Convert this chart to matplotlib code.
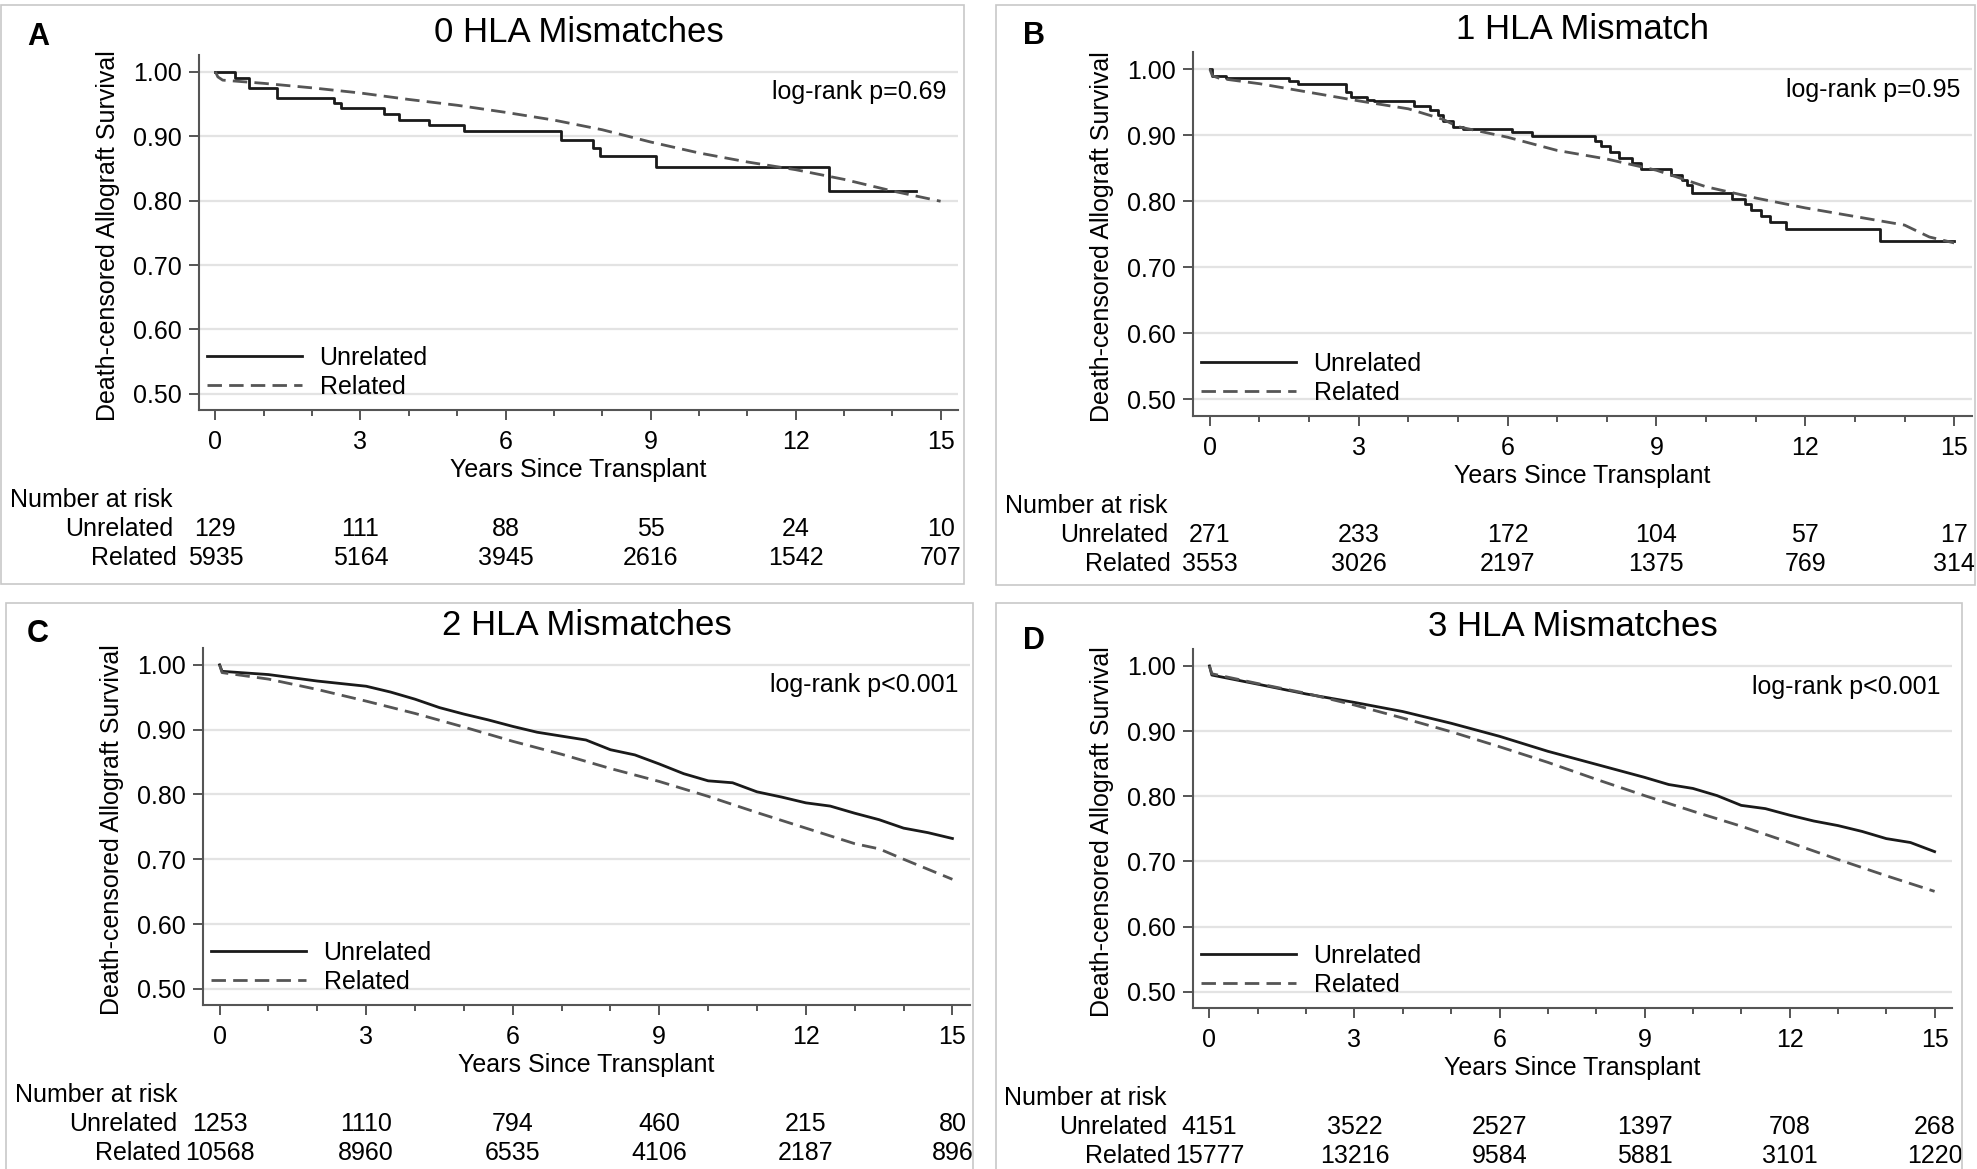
import matplotlib
matplotlib.use('Agg')
import matplotlib.pyplot as plt
from matplotlib.patches import Rectangle
from matplotlib.ticker import FormatStrFormatter, MultipleLocator

plt.rcParams['font.family'] = ['Liberation Sans', 'DejaVu Sans']
plt.rcParams['font.size'] = 18

W, H = 1977, 1169
PT = 0.72  # points per pixel at 100 dpi

panel_letters = ['A', 'B', 'C', 'D']
panel_titles = ['0 HLA Mismatches', '1 HLA Mismatch', '2 HLA Mismatches', '3 HLA Mismatches']
logrank = ['log-rank p=0.69', 'log-rank p=0.95', 'log-rank p<0.001', 'log-rank p<0.001']
group_labels = ['Unrelated', 'Related']

risk_years = [0, 3, 6, 9, 12, 15]
risk_unrelated = [[129, 111, 88, 55, 24, 10],
                  [271, 233, 172, 104, 57, 17],
                  [1253, 1110, 794, 460, 215, 80],
                  [4151, 3522, 2527, 1397, 708, 268]]
risk_related = [[5935, 5164, 3945, 2616, 1542, 707],
                [3553, 3026, 2197, 1375, 769, 314],
                [10568, 8960, 6535, 4106, 2187, 896],
                [15777, 13216, 9584, 5881, 3101, 1220]]

# survival curves (years, survival)
a_unrel_t = [0, 0.4, 0.7, 1.28, 2.46, 2.6, 3.48, 3.8, 4.42, 5.14, 7.14, 7.82, 7.95, 9.12, 12.69, 14.5]
a_unrel_s = [1.0, 0.991, 0.975, 0.960, 0.952, 0.943, 0.934, 0.925, 0.917, 0.908, 0.894, 0.881, 0.869, 0.852, 0.815, 0.815]
a_rel_t = [0, 0.05, 0.15, 1, 2, 3, 4, 5, 6, 7, 8, 9, 10, 11, 12, 13, 14, 15]
a_rel_s = [1.0, 0.992, 0.987, 0.982, 0.975, 0.967, 0.957, 0.948, 0.937, 0.925, 0.910, 0.891, 0.874, 0.860, 0.848, 0.833, 0.815, 0.799]

b_unrel_t = [0, 0.05, 0.32, 1.59, 1.78, 2.75, 2.85, 3.17, 3.3, 4.12, 4.44, 4.59, 4.7, 4.89, 5.1, 6.09, 6.5,
             7.77, 7.89, 8.06, 8.25, 8.5, 8.69, 9.3, 9.52, 9.62, 9.71, 10.53, 10.79, 10.91, 11.1, 11.29,
             11.61, 13.5, 15.0]
b_unrel_s = [1.0, 0.990, 0.986, 0.982, 0.978, 0.966, 0.958, 0.954, 0.952, 0.945, 0.938, 0.930, 0.921, 0.913,
             0.909, 0.905, 0.899, 0.892, 0.884, 0.875, 0.866, 0.858, 0.849, 0.840, 0.832, 0.824, 0.813, 0.803,
             0.796, 0.787, 0.778, 0.769, 0.758, 0.740, 0.740]
b_rel_t = [0, 0.05, 0.2, 1, 2, 3, 4, 4.7, 5, 6, 7, 8, 9, 10, 11, 12, 13, 14, 14.5, 15]
b_rel_s = [1.0, 0.990, 0.986, 0.978, 0.965, 0.952, 0.940, 0.924, 0.913, 0.897, 0.877, 0.864, 0.847, 0.822,
           0.805, 0.790, 0.777, 0.764, 0.746, 0.737]

c_unrel_t = [0, 0.05, 1, 2, 3, 3.5, 4, 4.5, 5, 5.5, 6, 6.5, 7, 7.5, 8, 8.5, 9, 9.5, 10, 10.5, 11, 11.5,
             12, 12.5, 13, 13.5, 14, 14.5, 15]
c_unrel_s = [1.0, 0.990, 0.985, 0.975, 0.967, 0.958, 0.947, 0.934, 0.924, 0.915, 0.905, 0.896, 0.890, 0.884,
             0.869, 0.861, 0.847, 0.832, 0.821, 0.818, 0.804, 0.796, 0.787, 0.782, 0.771, 0.761, 0.748,
             0.741, 0.732]
c_rel_t = [0, 0.05, 1, 2, 3, 4, 5, 6, 7, 8, 9, 10, 11, 12, 13, 13.5, 14, 15]
c_rel_s = [1.0, 0.988, 0.978, 0.962, 0.944, 0.925, 0.904, 0.882, 0.862, 0.840, 0.820, 0.797, 0.772, 0.748,
           0.724, 0.716, 0.700, 0.669]

d_unrel_t = [0, 0.05, 1, 2, 3, 4, 5, 6, 7, 8, 9, 9.5, 10, 10.5, 11, 11.5, 12, 12.5, 13, 13.5, 14, 14.5, 15]
d_unrel_s = [1.0, 0.986, 0.972, 0.957, 0.944, 0.930, 0.912, 0.892, 0.869, 0.849, 0.829, 0.818, 0.812, 0.801,
             0.786, 0.781, 0.771, 0.762, 0.755, 0.746, 0.735, 0.729, 0.715]
d_rel_t = [0, 0.05, 1, 2, 3, 4, 5, 6, 7, 8, 9, 10, 11, 12, 13, 14, 15]
d_rel_s = [1.0, 0.988, 0.973, 0.958, 0.940, 0.920, 0.899, 0.876, 0.852, 0.826, 0.801, 0.777, 0.754, 0.729,
           0.703, 0.678, 0.654]

curves = [(a_unrel_t, a_unrel_s, a_rel_t, a_rel_s),
          (b_unrel_t, b_unrel_s, b_rel_t, b_rel_s),
          (c_unrel_t, c_unrel_s, c_rel_t, c_rel_s),
          (d_unrel_t, d_unrel_s, d_rel_t, d_rel_s)]
step_style = ['steps-post', 'steps-post', 'default', 'default']

# layout in pixels: left, top, width, height
axes_px = [(199, 55, 759, 355), (1193, 52, 779, 364), (203, 648, 767, 357), (1193, 649, 759, 359)]
borders_px = [(1, 5, 963, 579), (996, 5, 979, 580), (6, 603, 967, 575), (996, 603, 966, 575)]
letter_px = [(38, 37), (1034, 36), (38, 634), (1034, 641)]

AXC = '#555555'

fig = plt.figure(figsize=(W / 100, H / 100), dpi=100)

for i in range(4):
    x, y, w, h = borders_px[i]
    fig.add_artist(Rectangle((x / W, 1 - (y + h) / H), w / W, h / H, transform=fig.transFigure,
                             fill=False, ec='#c8c8c8', lw=1.2))
    lx, ly = letter_px[i]
    fig.text(lx / W, 1 - ly / H, panel_letters[i], fontweight='bold', fontsize=22,
             ha='center', va='center')

    left, top, w, h = axes_px[i]
    ax = fig.add_axes([left / W, 1 - (top + h) / H, w / W, h / H])
    ut, us, rt, rs = curves[i]
    ax.plot(ut, us, color='#1a1a1a', lw=2.0, drawstyle=step_style[i], label=group_labels[0])
    ax.plot(rt, rs, color='#555555', lw=2.0, dashes=(5.2, 2.6), label=group_labels[1])

    ax.set_xlim(-0.34, 15.36)
    ax.set_ylim(0.475, 1.026)
    ax.set_yticks([0.5, 0.6, 0.7, 0.8, 0.9, 1.0])
    ax.yaxis.set_major_formatter(FormatStrFormatter('%.2f'))
    ax.xaxis.set_major_locator(MultipleLocator(3))
    ax.xaxis.set_minor_locator(MultipleLocator(1))
    ax.tick_params(which='major', length=7.5, width=1.4, color=AXC, labelsize=18)
    ax.tick_params(which='minor', length=4.3, width=1.4, color=AXC)
    ax.tick_params(axis='x', which='major', pad=7)
    ax.tick_params(axis='y', which='major', pad=5)
    ax.grid(axis='y', color='#e3e3e3', lw=1.6)
    ax.set_axisbelow(True)
    for s in ['top', 'right']:
        ax.spines[s].set_visible(False)
    for s in ['left', 'bottom']:
        ax.spines[s].set_color(AXC)
        ax.spines[s].set_linewidth(1.5)

    ax.annotate(panel_titles[i], xy=(0.5, 1), xycoords='axes fraction', xytext=(0, 13 * PT),
                textcoords='offset points', ha='center', va='baseline', fontsize=25)
    ax.text(0.985, 0.895, logrank[i], transform=ax.transAxes, ha='right', va='center', fontsize=18)
    ax.annotate('Years Since Transplant', xy=(0.5, 0), xycoords='axes fraction',
                xytext=(0, -67 * PT), textcoords='offset points', ha='center', va='baseline',
                annotation_clip=False)
    ax.annotate('Death-censored Allograft Survival', xy=(0, 0.5), xycoords='axes fraction',
                xytext=(-91 * PT, -3 * PT), textcoords='offset points', ha='center', va='center',
                rotation=90, annotation_clip=False)

    ax.legend(loc='upper left', bbox_to_anchor=(8 / w, 64 / h), frameon=False, borderpad=0,
              borderaxespad=0, handlelength=3.8, handletextpad=0.7, labelspacing=0.2, fontsize=18)

    # number at risk table
    base = dict(xycoords=('data', 'axes fraction'), textcoords='offset points',
                va='baseline', annotation_clip=False)
    ax.annotate('Number at risk', xy=(0, 0), xytext=(-205 * PT, -97 * PT), ha='left', **base)
    ax.annotate(group_labels[0], xy=(0, 0), xytext=(-42 * PT, -126 * PT), ha='right', **base)
    ax.annotate(group_labels[1], xy=(0, 0), xytext=(-39 * PT, -155 * PT), ha='right', **base)
    for t, nu, nr in zip(risk_years, risk_unrelated[i], risk_related[i]):
        ax.annotate(f'{nu}', xy=(t, 0), xytext=(0, -126 * PT), ha='center', **base)
        ax.annotate(f'{nr}', xy=(t, 0), xytext=(0, -155 * PT), ha='center', **base)

fig.savefig('out.png', dpi=100, facecolor='white')
